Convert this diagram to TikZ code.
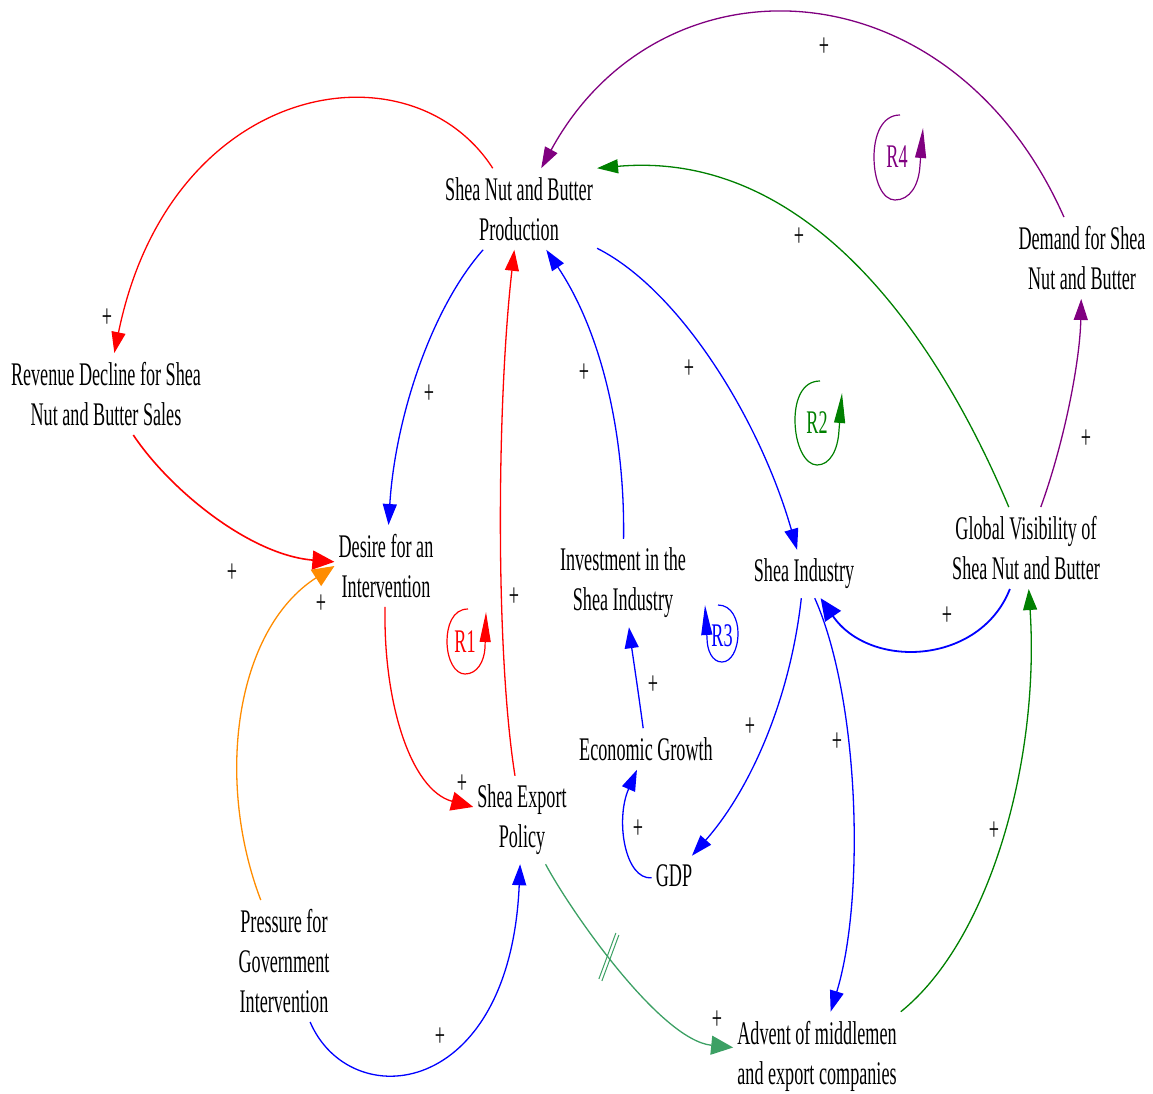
\documentclass[tikz,border=0pt]{standalone}
\usepackage{fontspec}
\setmainfont{Liberation Serif}[FakeStretch=0.55]
\usetikzlibrary{arrows.meta}
\definecolor{cred}{RGB}{255,0,0}
\definecolor{cblue}{RGB}{0,0,255}
\definecolor{cgreen}{RGB}{0,128,0}
\definecolor{cpurple}{RGB}{128,0,128}
\definecolor{corange}{RGB}{255,140,0}
\definecolor{cseagreen}{RGB}{60,160,100}
\begin{document}
\begin{tikzpicture}[x=1pt,y=-1pt,
  var/.style={align=center, inner xsep=4pt, inner ysep=9pt, font=\fontsize{33}{40}\selectfont},
  pl/.style={font=\fontsize{33}{40}\selectfont, inner sep=0pt},
  lk/.style={line width=1.3pt, -{Triangle[length=21pt,width=14pt]}},
  bigtip/.style={-{Triangle[length=22pt,width=19pt]}},
  looparr/.style={line width=1.2pt, -{Triangle[length=30pt,width=11pt]}},
  looplbl/.style={font=\fontsize{33}{40}\selectfont, inner sep=0pt}]
\useasboundingbox (0,0) rectangle (1153,1093);

% variables
\node[var] (prod) at (519,209) {Shea Nut and Butter\\Production};
\node[var] (rev) at (106,394) {Revenue Decline for Shea\\Nut and Butter Sales};
\node[var] (des) at (386,566) {Desire for an\\Intervention};
\node[var] (inv) at (623,583) {Investment in the\\Shea Industry};
\node[var] (ind) at (804,574) {Shea Industry};
\node[var] (glob) at (1026,548) {Global Visibility of\\Shea Nut and Butter};
\node[var] (dem) at (1082,258) {Demand for Shea\\Nut and Butter};
\node[var] (eco) at (646,749) {Economic Growth};
\node[var] (exp) at (522,820) {Shea Export\\Policy};
\node[var] (gdp) at (674,876) {GDP};
\node[var] (pre) at (284,961) {Pressure for\\Government\\Intervention};
\node[var] (adv) at (817,1056) {Advent of middlemen\\and export companies};

% links
\draw[lk,corange,bigtip] (pre) .. controls (215,780) and (235,630) .. (des.west);
\draw[lk,cred] (prod) .. controls (410,40) and (170,80) .. (rev);
\draw[lk,cred,line width=1.6pt,bigtip] (rev) .. controls (170,490) and (250,555) .. (des);
\draw[lk,cblue] (prod) .. controls (430,310) and (395,420) .. (des);
\draw[lk,cred,bigtip] (des) .. controls (383,700) and (410,790) .. (exp);
\draw[lk,cred] (exp) .. controls (495,650) and (497,400) .. (prod);
\draw[lk,cblue] (inv) .. controls (625,430) and (600,330) .. (prod);
\draw[lk,cblue] (prod) .. controls (680,290) and (760,420) .. (ind);
\draw[lk,cgreen] (glob) .. controls (930,320) and (800,150) .. (prod.north east);
\draw[lk,cpurple] (dem) .. controls (950,-40) and (660,-50) .. (prod);
\draw[lk,cpurple] (glob) .. controls (1065,440) and (1080,360) .. (dem);
\draw[lk,cblue,line width=1.8pt,bigtip] (glob) .. controls (980,665) and (870,670) .. (ind);
\draw[lk,cblue] (ind) .. controls (790,700) and (750,790) .. (gdp);
\draw[lk,cblue] (ind) .. controls (860,700) and (865,900) .. (adv);
\draw[lk,cblue] (gdp) .. controls (625,880) and (615,820) .. (eco);
\draw[lk,cblue] (eco) .. controls (638,690) and (632,650) .. (inv);
\draw[lk,cblue] (pre) .. controls (350,1115) and (510,1100) .. (exp);
\draw[lk,cseagreen,bigtip] (exp) .. controls (570,910) and (660,1040) .. coordinate[pos=0.44] (hm) (adv);
\draw[lk,cgreen] (adv.north east) .. controls (990,940) and (1040,760) .. (glob);

% delay mark
\draw[cseagreen,line width=1pt] ([shift={(-10,23)}]hm) -- ([shift={(7,-23)}]hm);
\draw[cseagreen,line width=1pt] ([shift={(-7,25)}]hm) -- ([shift={(10,-21)}]hm);

% polarity signs
\node[pl] (p1) at (107,318) {+};
\node[pl] (p2) at (232,573) {+};
\node[pl] (p3) at (321,604) {+};
\node[pl] (p4) at (429,394) {+};
\node[pl] (p5) at (462,784) {+};
\node[pl] (p6) at (514,597) {+};
\node[pl] (p7) at (584,373) {+};
\node[pl] (p8) at (689,369) {+};
\node[pl] (p9) at (799,237) {+};
\node[pl] (p10) at (824,47) {+};
\node[pl] (p11) at (1086,439) {+};
\node[pl] (p12) at (947,616) {+};
\node[pl] (p13) at (750,727) {+};
\node[pl] (p14) at (837,742) {+};
\node[pl] (p15) at (638,829) {+};
\node[pl] (p16) at (653,685) {+};
\node[pl] (p17) at (440,1037) {+};
\node[pl] (p18) at (717,1020) {+};
\node[pl] (p19) at (994,831) {+};

% loop markers
\node[looplbl,cred] (r1) at (465,642) {R1};
\draw[looparr,cred] (468,609) .. controls (452,609) and (447,627) .. (447,641) .. controls (447,660) and (455,674) .. (465,674) .. controls (477,674) and (484,662) .. (485,648) -- (486,612);
\node[looplbl,cgreen] (r2) at (817,423) {R2};
\draw[looparr,cgreen] (820,381) .. controls (802,381) and (795,400) .. (795,420) .. controls (795,445) and (805,465) .. (817,465) .. controls (830,465) and (838,450) .. (839,430) -- (842,393);
\node[looplbl,cblue] (r3) at (722,636) {R3};
\draw[looparr,cblue] (718,605) .. controls (732,605) and (738,620) .. (738,633) .. controls (738,650) and (731,662) .. (722,662) .. controls (712,662) and (707,650) .. (707,638) -- (705,605);
\node[looplbl,cpurple] (r4) at (897,157) {R4};
\draw[looparr,cpurple] (900,115) .. controls (882,115) and (874,135) .. (874,157) .. controls (874,182) and (883,200) .. (895,200) .. controls (910,200) and (919,185) .. (920,165) -- (923,128);
\end{tikzpicture}
\end{document}
